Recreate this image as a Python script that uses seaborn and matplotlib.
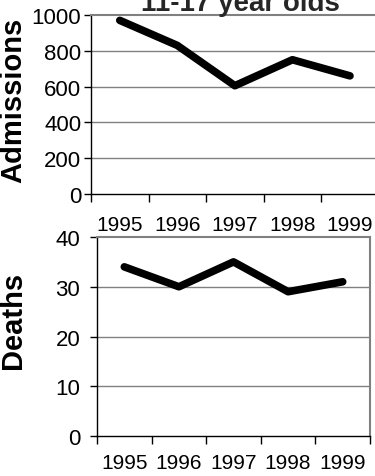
import seaborn as sns
import matplotlib.pyplot as plt
import pandas as pd

years = ["1995", "1996", "1997", "1998", "1999"]
admissions = [970, 830, 605, 750, 660]
deaths = [34, 30, 35, 29, 31]
title = "11-17 year olds"

df = pd.DataFrame({"year": years, "Admissions": admissions, "Deaths": deaths})

sns.set_style("white")
plt.rcParams["font.family"] = ["Liberation Sans", "DejaVu Sans"]

fig = plt.figure(figsize=(3.75, 4.77), dpi=100)
ax1 = fig.add_axes([91 / 375, 1 - 195 / 477, 1 - 91 / 375 + 0.01, (195 - 16) / 477])
ax2 = fig.add_axes([97 / 375, 1 - 437 / 477, (370 - 97) / 375, (437 - 238) / 477])


def style_axes(ax, col, ymax, step, label, label_xy, xpad, ypad):
    sns.lineplot(data=df, x="year", y=col, ax=ax, color="black", lw=5.5, sort=False)
    ax.set_xlim(-0.5, 4.5)
    ax.set_ylim(0, ymax)
    ax.set_yticks(range(0, ymax + 1, step))
    for y in range(step, ymax, step):
        ax.axhline(y, color="#808080", lw=1, zorder=0)
    # ticks on category boundaries, labels centred on categories
    ax.set_xticks([i - 0.5 for i in range(6)])
    ax.set_xticklabels([])
    ax.set_xticks(range(5), minor=True)
    ax.set_xticklabels(years, minor=True)
    ax.tick_params(axis="x", which="major", direction="out", length=6, width=1, color="black", bottom=True)
    ax.tick_params(axis="x", which="minor", length=0, pad=xpad, labelsize=15, labelcolor="black")
    ax.tick_params(axis="y", direction="out", length=5, width=1, color="black", left=True, pad=ypad,
                   labelsize=16, labelcolor="black")
    for s in ["left", "bottom"]:
        ax.spines[s].set_color("black")
        ax.spines[s].set_linewidth(1)
    for s in ["top", "right"]:
        ax.spines[s].set_color("#808080")
        ax.spines[s].set_linewidth(1.5)
    ax.set_xlabel("")
    ax.set_ylabel(label, fontsize=21, fontweight="bold", color="black")
    ax.yaxis.set_label_coords(label_xy[0], label_xy[1], transform=fig.transFigure)


style_axes(ax1, "Admissions", 1000, 200, "Admissions", (27 / 375, 1 - 100 / 477), 15, 2)
style_axes(ax2, "Deaths", 40, 10, "Deaths", (27 / 375, 1 - 320 / 477), 12, 7)

fig.text(240 / 375, 1 - 11 / 477, title, ha="center", va="baseline", fontsize=20, fontweight="bold")

plt.savefig("out.png", dpi=100)
